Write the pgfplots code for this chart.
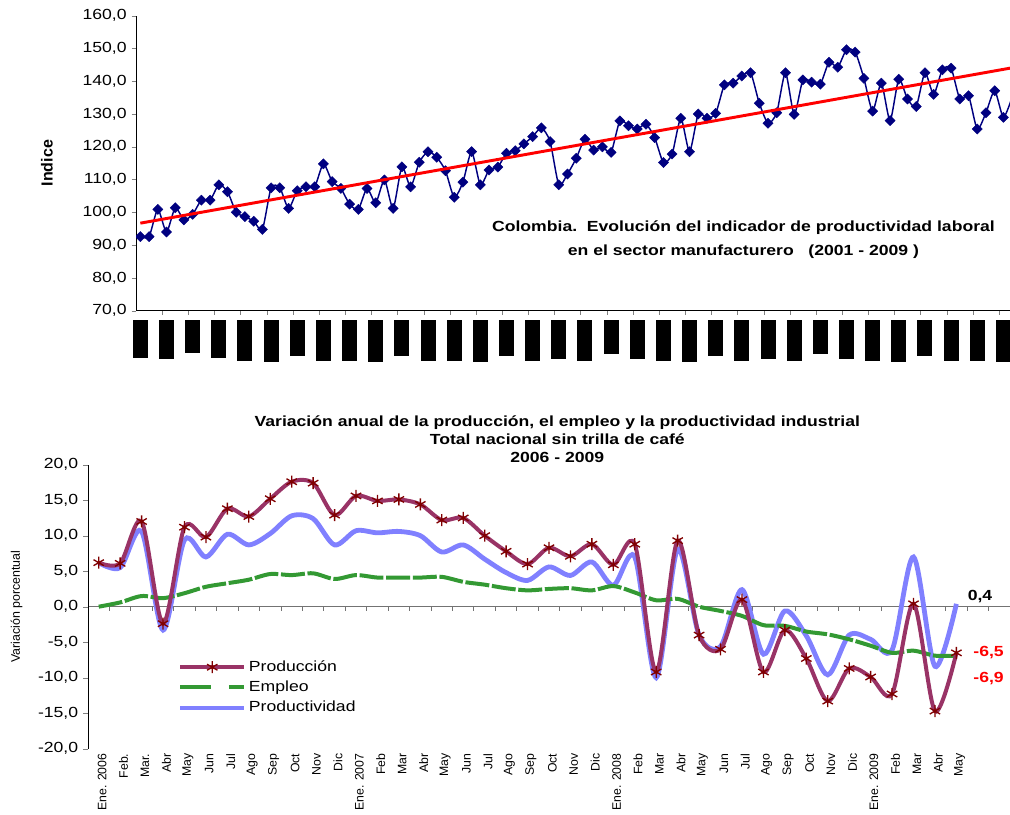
\documentclass[border=0pt]{standalone}
\usepackage{pgfplots}
\pgfplotsset{compat=1.18}
\usepackage{pgfplotstable}
\usepackage{fontspec}
\setmainfont{Liberation Sans}[FakeStretch=1.2]
\newfontfamily\rotfont{Liberation Sans}
\definecolor{navy}{HTML}{000080}
\definecolor{prodc}{HTML}{993366}
\definecolor{prodm}{HTML}{800000}
\definecolor{empc}{HTML}{339933}
\definecolor{prdc}{HTML}{8080FF}
\newcommand\bk[1]{\rule{11.25pt}{#1pt}}

\pgfplotstableread{
x y
0 92.6
1 92.6
2 100.9
3 94.0
4 101.4
5 97.7
6 99.4
7 103.7
8 103.7
9 108.4
10 106.3
11 100.0
12 98.7
13 97.3
14 94.8
15 107.5
16 107.5
17 101.2
18 106.6
19 107.8
20 107.8
21 114.8
22 109.4
23 107.3
24 102.5
25 100.9
26 107.3
27 102.9
28 109.9
29 101.2
30 113.9
31 107.8
32 115.3
33 118.5
34 116.8
35 112.7
36 104.6
37 109.2
38 118.5
39 108.4
40 112.9
41 113.8
42 118.0
43 118.8
44 120.9
45 123.1
46 125.8
47 121.6
48 108.4
49 111.7
50 116.5
51 122.3
52 119.0
53 120.0
54 118.3
55 127.9
56 126.4
57 125.4
58 126.9
59 122.8
60 115.2
61 117.8
62 128.7
63 118.5
64 130.0
65 128.7
66 130.2
67 138.9
68 139.4
69 141.6
70 142.6
71 133.3
72 127.2
73 130.4
74 142.6
75 129.9
76 140.4
77 139.7
78 139.1
79 145.8
80 144.3
81 149.6
82 148.9
83 140.9
84 130.9
85 139.4
86 128.0
87 140.6
88 134.6
89 132.3
90 142.6
91 136.0
92 143.5
93 144.0
94 134.6
95 135.6
96 125.4
97 130.4
98 137.1
99 129.0
100 135.1
}\topdata

\pgfplotstableread{
i prod emp prd
0 6.2 0.0 6.2
1 6.1 0.6 5.5
2 12.0 1.5 10.6
3 -2.4 1.2 -3.3
4 11.2 1.9 9.4
5 9.8 2.8 7.0
6 13.8 3.3 10.2
7 12.7 3.8 8.7
8 15.2 4.6 10.3
9 17.6 4.45 12.8
10 17.4 4.7 12.4
11 12.9 3.9 8.7
12 15.6 4.45 10.7
13 14.9 4.1 10.4
14 15.1 4.1 10.6
15 14.4 4.1 10.0
16 12.2 4.2 7.7
17 12.5 3.5 8.7
18 10.0 3.1 6.7
19 7.8 2.6 4.8
20 6.0 2.3 3.7
21 8.3 2.5 5.6
22 7.1 2.6 4.4
23 8.8 2.3 6.3
24 5.9 2.9 3.0
25 8.8 2.0 7.0
26 -9.2 0.9 -10.0
27 9.3 1.1 8.1
28 -4.0 0.0 -4.0
29 -6.0 -0.6 -5.6
30 1.0 -1.3 2.4
31 -9.2 -2.6 -6.7
32 -3.3 -2.7 -0.6
33 -7.3 -3.5 -4.1
34 -13.3 -3.9 -9.6
35 -8.7 -4.6 -4.0
36 -9.9 -5.5 -4.6
37 -12.3 -6.5 -6.1
38 0.4 -6.2 7.0
39 -14.7 -6.9 -8.4
40 -6.5 -6.9 0.4
}\botdata

\begin{document}
\fontsize{11}{13}\selectfont
\begin{tikzpicture}
\useasboundingbox (0,0) rectangle (757.5pt,-610.5pt);
% ---------------- top chart ----------------
\begin{axis}[
  at={(102pt,-233pt)}, anchor=south west, scale only axis,
  width=655.5pt, height=221.25pt,
  xmin=-0.5, xmax=99.76, ymin=70, ymax=160,
  axis lines=left, x axis line style={-}, y axis line style={-},
  tick align=outside,
  major tick length=3.2pt, minor tick length=3.2pt,
  ytick={70,80,...,160},
  xtick={0,3,...,99},
  major x tick style={draw=none},
  minor xtick={2.5,5.5,...,98.5},
  xticklabels={\bk{28},\bk{28.7},\bk{24.2},\bk{28},\bk{30.2},\bk{31},\bk{26.5},\bk{30.2},\bk{30.2},\bk{31},\bk{26.5},\bk{30.2},\bk{30.2},\bk{31},\bk{26.5},\bk{30.2},\bk{28.7},\bk{30.2},\bk{25.5},\bk{28.7},\bk{30.2},\bk{31},\bk{26.5},\bk{30.2},\bk{28.7},\bk{30.2},\bk{25.5},\bk{28.7},\bk{30.2},\bk{31},\bk{26.5},\bk{30.2},\bk{30.2},\bk{31}},
  xticklabel style={inner sep=0pt, anchor=north, yshift=-3.8pt},
  yticklabel style={/pgf/number format/fixed, /pgf/number format/fixed zerofill, /pgf/number format/precision=1, /pgf/number format/use comma},
  /pgf/number format/assume math mode=true,
  ylabel={Indice},
  ylabel style={font=\rotfont\bfseries\fontsize{12}{14}\selectfont, at={(axis description cs:-0.1018,0.5)}, anchor=center},
  clip marker paths=true,
]
\addplot[navy, line width=1.1pt, smooth, tension=0.4, mark=square*, mark size=2.7pt,
  mark options={rotate=45, fill=navy, draw=navy, solid, line width=0.3pt}] table[x=x, y=y] {\topdata};
\addplot[red, line width=2.2pt] coordinates {(0,96.7) (100,144.1)};
\node[font=\bfseries\fontsize{11}{18}\selectfont, align=center] at (rel axis cs:0.695,0.24)
  {Colombia.\ \ Evolución del indicador de productividad laboral\\en el sector manufacturero \ \ (2001 - 2009 )};
\end{axis}

% ---------------- bottom chart: zero line ----------------
\begin{axis}[
  at={(66pt,-561.5pt)}, anchor=south west, scale only axis,
  width=691.5pt, height=213pt,
  xmin=-0.5, xmax=42.5, ymin=-20, ymax=20,
  axis x line=middle, axis y line=none,
  x axis line style={-, draw=black!55, line width=0.9pt},
  xtick={0.5,1.5,...,41.5}, xticklabels={},
  ytick=\empty,
  tick align=outside, major tick length=3pt,
  xtick style={draw=black!55, line width=0.7pt},
]
\end{axis}

% ---------------- bottom chart ----------------
\begin{axis}[
  at={(66pt,-561.5pt)}, anchor=south west, scale only axis,
  width=691.5pt, height=213pt,
  xmin=-0.5, xmax=42.5, ymin=-20, ymax=20,
  axis lines=left, x axis line style={draw=none}, y axis line style={-},
  tick align=outside, major tick length=3.5pt,
  ytick={-20,-15,...,20},
  xtick={0,...,40},
  major x tick style={draw=none},
  xticklabels={Ene. 2006,Feb.,Mar.,Abr,May,Jun,Jul,Ago,Sep,Oct,Nov,Dic,Ene. 2007,Feb,Mar,Abr,May,Jun,Jul,Ago,Sep,Oct,Nov,Dic,Ene. 2008,Feb,Mar,Abr,May,Jun,Jul,Ago,Sep,Oct,Nov,Dic,Ene. 2009,Feb,Mar,Abr,May},
  xticklabel style={font=\rotfont\fontsize{9.2}{9.2}\selectfont, rotate=90, anchor=east, inner sep=0pt, yshift=-2.5pt},
  yticklabel style={/pgf/number format/fixed, /pgf/number format/fixed zerofill, /pgf/number format/precision=1, /pgf/number format/use comma},
  /pgf/number format/assume math mode=true,
  ylabel={Variación porcentual},
  ylabel style={font=\rotfont\fontsize{9.3}{11}\selectfont, at={(axis description cs:-0.0775,0.5)}, anchor=center},
  clip=false,
  legend style={at={(axis description cs:0.0976,0.32)}, anchor=north west, draw=none, fill=none,
    inner sep=0pt, row sep=1.5pt, cells={anchor=west}, font=\fontsize{11}{13}\selectfont},
  legend image code/.code={\draw[mark repeat=2, mark phase=2, #1] plot coordinates {(0pt,0pt) (24pt,0pt) (48pt,0pt)};},
]
\addplot[prdc, line width=3.6pt, smooth, forget plot] table[x=i, y=prd] {\botdata};
\addplot[empc, line width=3pt, smooth, dash pattern=on 18pt off 2pt, forget plot] table[x=i, y=emp] {\botdata};
\addplot[prodc, line width=3pt, smooth, mark=asterisk, mark size=4.5pt,
  mark options={prodm, solid, line width=1pt}, forget plot] table[x=i, y=prod] {\botdata};
\addlegendimage{prodc, line width=3pt, mark=asterisk, mark size=4.5pt, mark options={prodm, solid, line width=1pt}}
\addlegendentry{Producción}
\addlegendimage{empc, line width=3pt, dash pattern=on 23pt off 13.5pt}
\addlegendentry{Empleo}
\addlegendimage{prdc, line width=3pt}
\addlegendentry{Productividad}
\node[font=\bfseries] at (axis cs:41.1,1.4) {0,4};
\node[font=\bfseries, text=red] at (axis cs:41.5,-6.5) {-6,5};
\node[font=\bfseries, text=red] at (axis cs:41.5,-10.1) {-6,9};
\node[font=\bfseries\fontsize{11}{13.5}\selectfont, align=center] at (axis description cs:0.509,1.0905)
  {Variación anual de la producción, el empleo y la productividad industrial\\Total nacional sin trilla de café\\2006 - 2009};
\end{axis}
\end{tikzpicture}
\end{document}
